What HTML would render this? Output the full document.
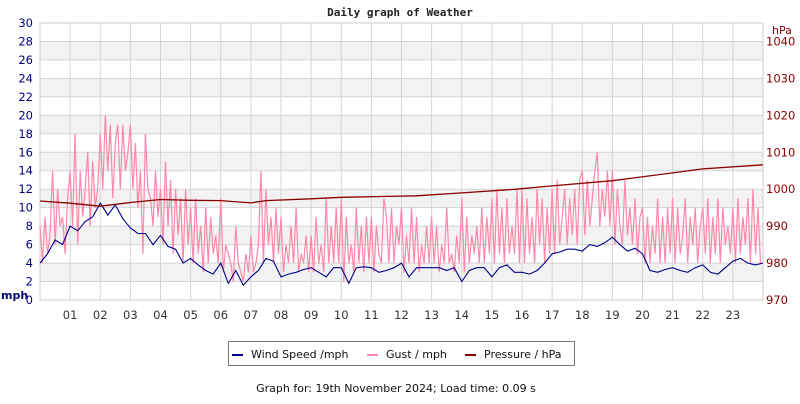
<!DOCTYPE html>
<html><head><meta charset="utf-8"><style>
body{margin:0;background:#fff;width:800px;height:400px;overflow:hidden;font-family:"DejaVu Sans","Liberation Sans",sans-serif}
svg text{font-family:"DejaVu Sans","Liberation Sans",sans-serif}
</style></head><body>
<svg id="chart" width="800" height="400" xmlns="http://www.w3.org/2000/svg">
<text x="400" y="16" text-anchor="middle" font-size="11" font-weight="bold" style="font-family:'DejaVu Sans Mono','Liberation Mono',monospace" fill="#222">Daily graph of Weather</text>
<g id="bands"></g><g id="grid"></g>
<g id="series"></g>
<g id="axes"></g>
<text x="1" y="299" font-size="11" font-weight="bold" fill="#000080">mph</text>
<text x="772" y="34" font-size="11" fill="#8b0000">hPa</text>
<g>
<rect x="228.5" y="341.5" width="346" height="24" fill="#fff" stroke="#777" stroke-width="1"/>
<rect x="232" y="354" width="11" height="2" fill="#00008b"/>
<text x="251" y="358" font-size="11" fill="#111">Wind Speed /mph</text>
<rect x="367" y="354" width="11" height="2" fill="#ff88aa"/>
<text x="386" y="358" font-size="11" fill="#111">Gust / mph</text>
<rect x="465" y="354" width="11" height="2" fill="#8b0000"/>
<text x="484" y="358" font-size="11" fill="#111">Pressure / hPa</text>
</g>
<text x="396" y="392" text-anchor="middle" font-size="11" fill="#111">Graph for: 19th November 2024; Load time: 0.09 s</text>
</svg>
<script>
const hourLabels=["01","02","03","04","05","06","07","08","09","10","11","12","13","14","15","16","17","18","19","20","21","22","23"];
const mphTicks=[0,2,4,6,8,10,12,14,16,18,20,22,24,26,28,30];
const hpaTicks=[970,980,990,1000,1010,1020,1030,1040];
const windSpeed=[4,5,6.5,6, 8,7.5,8.5,9, 10.5,9.2,10.3,8.8, 7.8,7.2,7.2,6, 7,5.8,5.5,4, 4.5,3.8,3.2,2.8, 4,1.8,3.2,1.6, 2.5,3.2,4.5,4.2, 2.5,2.8,3,3.3, 3.5,3,2.5,3.5, 3.5,1.8,3.5,3.6, 3.5,3,3.2,3.5, 4,2.5,3.5,3.5, 3.5,3.5,3.2,3.5, 2,3.2,3.5,3.5, 2.5,3.5,3.8,3, 3,2.8,3.2,4, 5,5.2,5.5,5.5, 5.3,6,5.8,6.2, 6.8,6,5.3,5.6, 5,3.2,3,3.3, 3.5,3.2,3,3.5, 3.8,3,2.8,3.5, 4.2,4.5,4,3.8, 4];
const gust=[
8,4,9,5,7,14,6,12,8,9,5,11, 14,8,18,6,14,9,12,16,8,15,10,12,
18,12,20,14,19,11,17,19,12,19,14,16, 19,12,17,10,14,5,18,12,11,8,14,9,
12,6,15,8,13,5,12,7,11,4,12,6, 10,4,11,5,8,3,10,4,9,5,7,4,
11,3,6,5,4,2,8,4,3,2,5,3, 7,3,4,6,14,4,12,6,9,4,10,5,
9,3,6,4,8,4,10,3,5,4,7,3, 7,3,9,4,6,3,11,4,8,4,10,4,
11,2,9,4,6,3,10,4,8,3,9,4, 9,3,8,5,4,11,9,4,10,4,8,6,
10,3,7,4,10,4,9,3,6,4,8,4, 9,4,8,3,6,4,10,4,5,3,7,4,
11,3,9,4,7,5,8,4,10,4,9,5, 11,4,12,5,10,4,11,5,8,5,12,4,
12,4,11,5,9,4,12,6,11,4,10,5, 12,5,13,6,9,12,6,11,7,12,6,13,
14,7,13,8,11,14,16,8,12,9,14,8, 14,6,12,8,6,13,7,10,6,11,5,9,
10,4,9,4,8,5,11,4,9,4,10,5, 11,4,10,5,7,11,4,9,6,10,4,8,
10,5,11,4,9,5,11,4,10,6,8,5, 10,4,11,5,9,6,11,4,12,5,10,4, 4];
const pressureHours=[0,1,2,3,4,5,6,7,7.5,9,10,12.5,14,15.8,17,19,21,22,24];
const pressure=[996.8,996.2,995.4,996.4,997.2,997.0,996.9,996.3,996.9,997.4,997.8,998.2,999,1000,1000.9,1002.3,1004.4,1005.5,1006.6];
const NS="http://www.w3.org/2000/svg";
const X0=40,X1=763,Y0=300,Y1=23;
const xH=h=>X0+h*(X1-X0)/24;
const yM=v=>Y0-v*(Y0-Y1)/30;
const yP=p=>Y0-(p-970)*(Y0-Y1)/75;
function mk(tag,attrs,parent){const e=document.createElementNS(NS,tag);for(const k in attrs)e.setAttribute(k,attrs[k]);parent.appendChild(e);return e;}
const bands=document.getElementById('bands'),grid=document.getElementById('grid'),axes=document.getElementById('axes'),series=document.getElementById('series');
mk('rect',{x:X0,y:Y1,width:X1-X0,height:Y0-Y1,fill:'#fff'},bands);
for(let i=0;i<mphTicks.length-1;i++){const v=mphTicks[i];if(v%4===2){const b=mk('rect',{x:X0,y:yM(v+2),width:X1-X0,height:yM(v)-yM(v+2),fill:'#f2f2f2'},bands);

}}
mphTicks.forEach(v=>{const l=mk('line',{x1:X0,x2:X1,y1:yM(v),y2:yM(v),stroke:'#d4d4d4','stroke-width':1},grid);


const t=mk('text',{x:33,y:yM(v)+4,'text-anchor':'end','font-size':11.5,fill:'#000080'},axes);t.textContent=v;

});
hpaTicks.forEach(p=>{const t=mk('text',{x:766,y:yP(p)+4,'font-size':11.5,fill:'#8b0000'},axes);t.textContent=p;

});
hourLabels.forEach((s,i)=>{const x=xH(i+1);const l=mk('line',{x1:x,x2:x,y1:Y1,y2:Y0,stroke:'#d4d4d4','stroke-width':1},grid);


const t=mk('text',{x:x,y:319,'text-anchor':'middle','font-size':11.5,fill:'#333'},axes);t.textContent=s;

});
const fr=mk('rect',{x:X0,y:Y1,width:X1-X0,height:Y0-Y1,fill:'none',stroke:'#ccc','stroke-width':1},grid);


function pts(arr,step,yf){return arr.map((v,i)=>xH(Math.min(24,i*step)).toFixed(1)+','+yf(v).toFixed(1)).join(' ');}
const g=mk('polyline',{points:pts(gust,1/12,yM),fill:'none',stroke:'#ff88aa','stroke-width':1.2},series);


const w=mk('polyline',{points:pts(windSpeed,0.25,yM),fill:'none',stroke:'#00008b','stroke-width':1.1},series);


const pp=pressure.map((p,i)=>xH(pressureHours[i]).toFixed(1)+','+yP(p).toFixed(1)).join(' ');
const p=mk('polyline',{points:pp,fill:'none',stroke:'#8b0000','stroke-width':1.3},series);


</script>
</body></html>
